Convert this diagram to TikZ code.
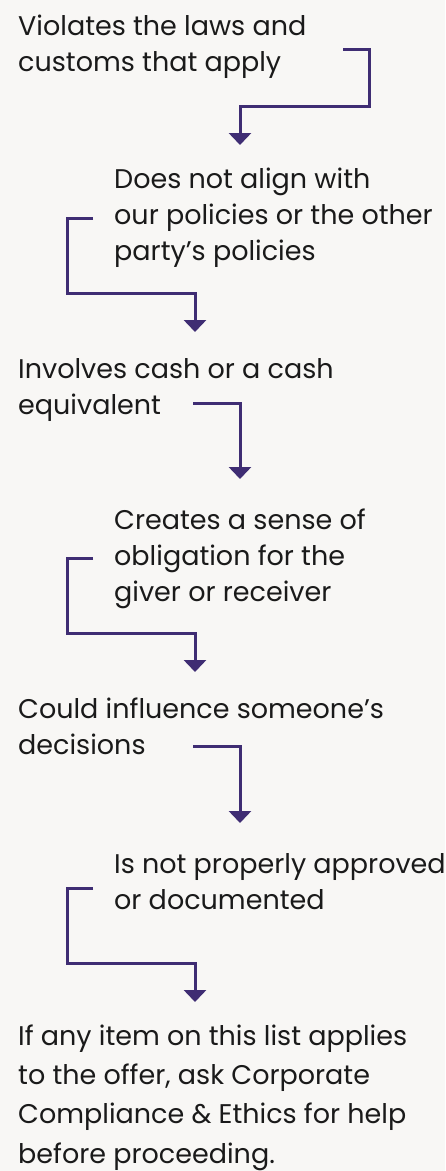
\documentclass[tikz,border=0pt]{standalone}
\usepackage{fontspec}
\setmainfont{Poppins}
\usetikzlibrary{arrows.meta}
\definecolor{bgcol}{HTML}{F8F7F5}
\definecolor{txtcol}{HTML}{1A1A1A}
\definecolor{flowcol}{HTML}{3F2D73}

\begin{document}
\begin{tikzpicture}[x=1pt,y=-1pt,
    item/.style={anchor=base west, align=left, inner sep=0pt, text=txtcol, font=\fontsize{27}{36}\selectfont},
    last/.style={item, font=\fontsize{27}{39.3}\selectfont},
    flow/.style={draw=flowcol, line width=3pt, -{Triangle[width=22pt,length=12pt]}}
]
% Background
\fill[bgcol] (0,0) rectangle (445,1171);
\useasboundingbox (0,0) rectangle (445,1171);

% Items (placed at the baseline of their last line)
\node[item] (laws) at (18,71) {Violates the laws and\\customs that apply};
\node[item] (policies) at (114,260) {Does not align with\\our policies or the other\\party’s policies};
\node[item] (cash) at (18,414) {Involves cash or a cash\\equivalent};
\node[item] (obligation) at (114,601) {Creates a sense of\\obligation for the\\giver or receiver};
\node[item] (influence) at (18,754) {Could influence someone’s\\decisions};
\node[item] (approved) at (114,909) {Is not properly approved\\or documented};
\node[last] (help) at (18,1163) {If any item on this list applies\\to the offer, ask Corporate\\Compliance \& Ethics for help\\before proceeding.};

% Arrow ends
\coordinate (s1) at (343,49);  \coordinate (e1) at (240,145);
\coordinate (s2) at (93,218);  \coordinate (e2) at (195,332);
\coordinate (s3) at (193,403); \coordinate (e3) at (240,479);
\coordinate (s4) at (93,558);  \coordinate (e4) at (195,672);
\coordinate (s5) at (193,746); \coordinate (e5) at (240,823);
\coordinate (s6) at (93,888);  \coordinate (e6) at (195,1002);

% Arrows
\draw[flow] (s1) -| ++(26,57) -| (e1);
\draw[flow] (s2) -| ++(-26,75) -| (e2);
\draw[flow] (s3) -| (e3);
\draw[flow] (s4) -| ++(-26,75) -| (e4);
\draw[flow] (s5) -| (e5);
\draw[flow] (s6) -| ++(-26,75) -| (e6);
\end{tikzpicture}
\end{document}
